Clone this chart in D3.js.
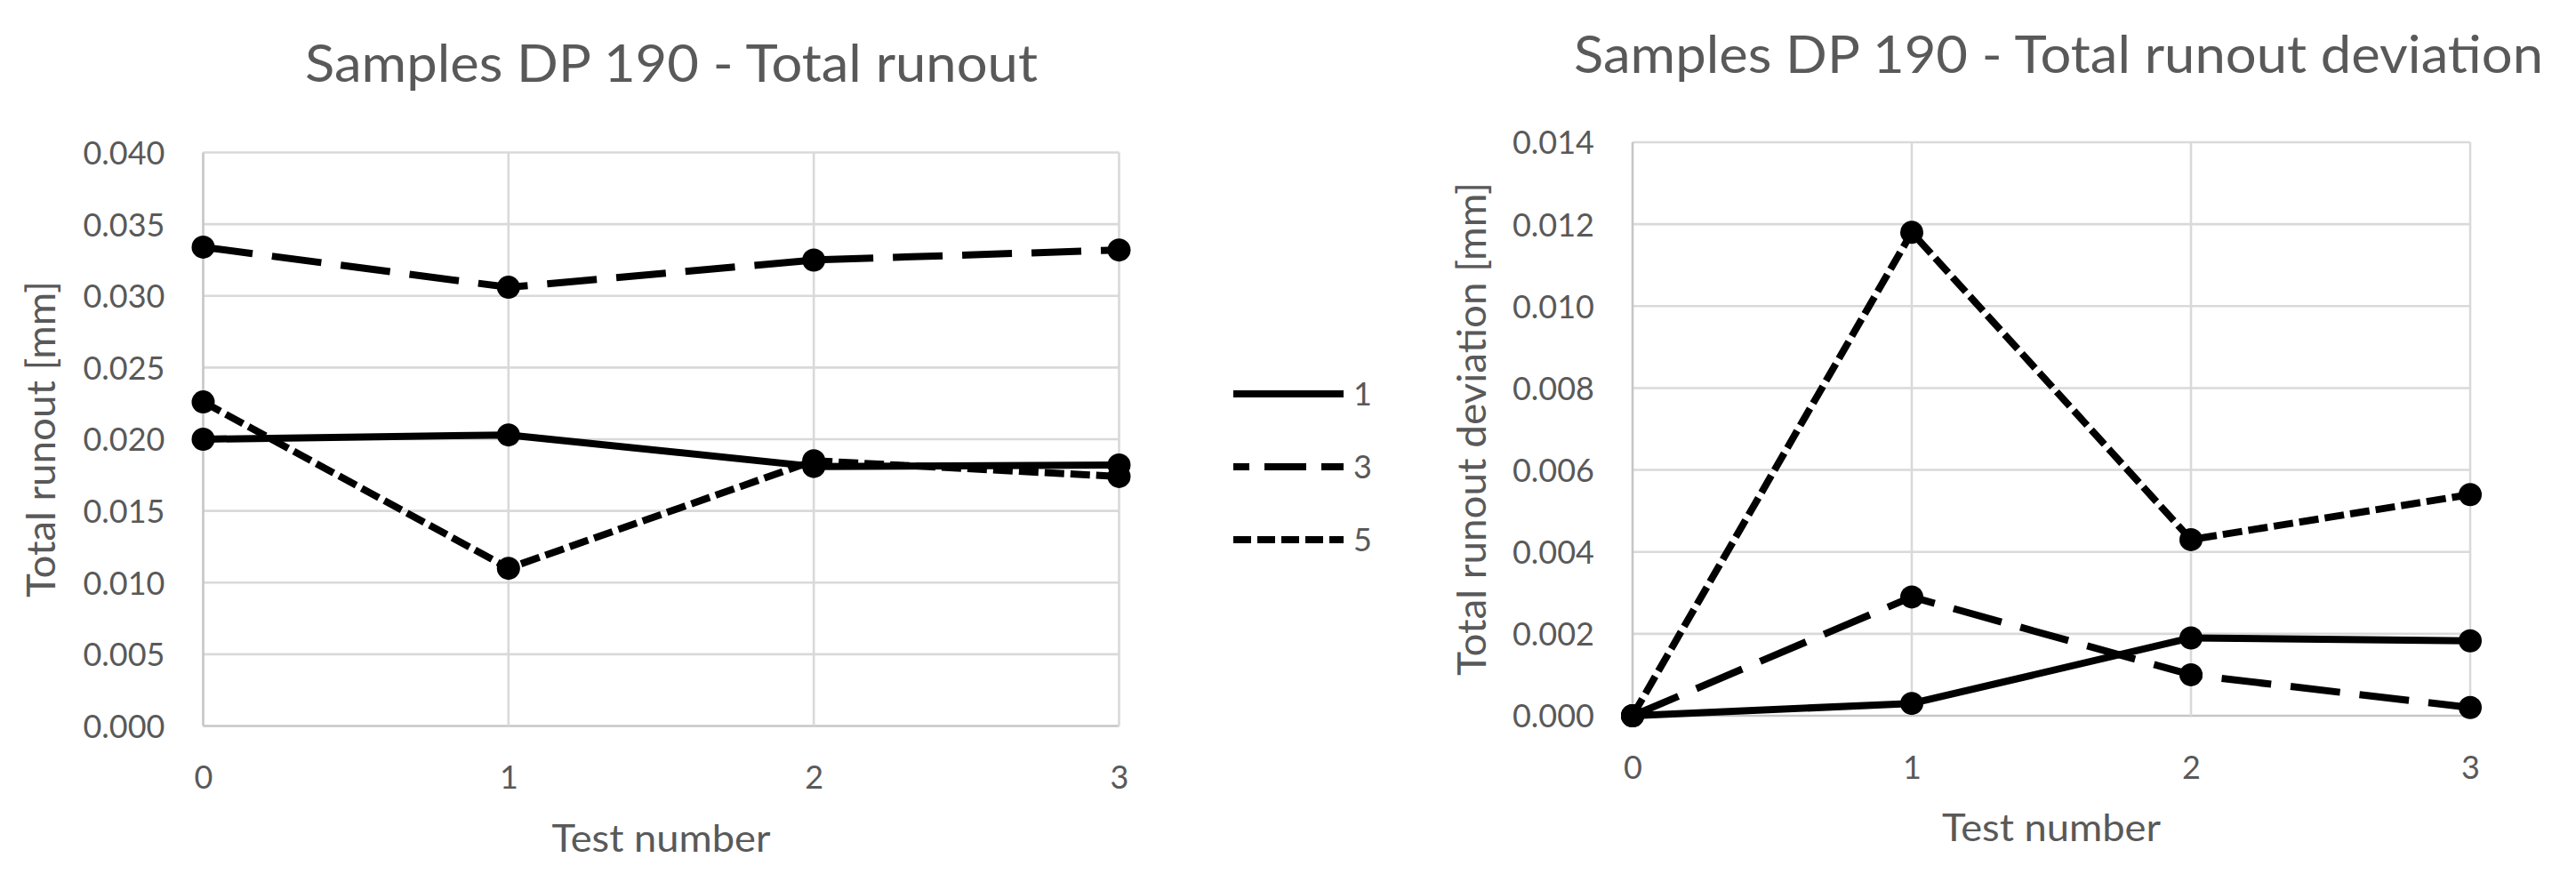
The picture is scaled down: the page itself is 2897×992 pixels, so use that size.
<!DOCTYPE html>
<html>
<head>
<meta charset="utf-8">
<script src="https://cdn.jsdelivr.net/npm/d3@7"></script>
<style>
  html, body { margin: 0; padding: 0; background: #ffffff; }
  svg { display: block; }
  text { font-family: Lato, "Open Sans", sans-serif; fill: #595959; }
</style>
</head>
<body>
<svg id="chart" width="2897" height="992"></svg>
<script>
// ---------------- data ----------------
const testNumbers = [0, 1, 2, 3];
const seriesNames = ["1", "3", "5"];

// Total runout [mm]
const runout1 = [0.0200, 0.0203, 0.0181, 0.0182];
const runout3 = [0.0334, 0.0306, 0.0325, 0.0332];
const runout5 = [0.0226, 0.0110, 0.0185, 0.0174];

// Total runout deviation [mm]
const deviation1 = [0.0000, 0.0003, 0.0019, 0.00183];
const deviation3 = [0.0000, 0.0029, 0.0010, 0.0002];
const deviation5 = [0.0000, 0.0118, 0.0043, 0.0054];

const runoutTicks = [0.000, 0.005, 0.010, 0.015, 0.020, 0.025, 0.030, 0.035, 0.040];
const deviationTicks = [0.000, 0.002, 0.004, 0.006, 0.008, 0.010, 0.012, 0.014];

const titleLeft = "Samples DP 190 - Total runout";
const titleRight = "Samples DP 190 - Total runout deviation";
const yTitleLeft = "Total runout [mm]";
const yTitleRight = "Total runout deviation [mm]";
const xTitle = "Test number";

// ---------------- styles ----------------
const dashes = { "1": null, "3": "56,22", "5": "22,7" };
const legendDashes = { "1": null, "3": "47,17", "5": "20,7" };
const legendOffsets = { "1": 0, "3": 29, "5": 0 };
const gridColor = "#d9d9d9";
const axisColor = "#c6c6c6";
const fmt = d3.format(".3f");

const svg = d3.select("#chart");
svg.append("rect").attr("width", 2897).attr("height", 992).attr("fill", "#fff");

function fit(sel, len) {
  sel.attr("textLength", len).attr("lengthAdjust", "spacingAndGlyphs");
  return sel;
}

function drawChart(cfg) {
  const x = d3.scaleLinear().domain([0, 3]).range([cfg.left, cfg.right]);
  const y = d3.scaleLinear().domain([0, cfg.ymax]).range([cfg.bottom, cfg.top]);
  const g = svg.append("g");

  // horizontal gridlines + y tick labels
  const yAxis = d3.axisLeft(y).tickValues(cfg.yticks).tickSize(0).tickPadding(0).tickFormat(fmt);
  const ya = g.append("g").attr("transform", `translate(${cfg.left - 43},0)`).call(yAxis);
  ya.select(".domain").remove();
  ya.selectAll("text").attr("font-size", 36).attr("fill", "#595959")
    .attr("font-family", "Lato, 'Open Sans', sans-serif").attr("dy", "0.36em").attr("x", 0);

  g.append("g").selectAll("line.h").data(cfg.yticks).join("line")
    .attr("x1", cfg.left).attr("x2", cfg.right)
    .attr("y1", d => y(d)).attr("y2", d => y(d))
    .attr("stroke", d => d === 0 ? axisColor : gridColor).attr("stroke-width", 2.6);

  // vertical gridlines
  g.append("g").selectAll("line.v").data(testNumbers).join("line")
    .attr("x1", d => x(d)).attr("x2", d => x(d))
    .attr("y1", cfg.top).attr("y2", cfg.bottom)
    .attr("stroke", d => d === 0 ? axisColor : gridColor).attr("stroke-width", 2.6);

  // x tick labels
  const xAxis = d3.axisBottom(x).tickValues(testNumbers).tickSize(0).tickPadding(0).tickFormat(d3.format("d"));
  const xa = g.append("g").attr("transform", `translate(0,${cfg.xLabelBase})`).call(xAxis);
  xa.select(".domain").remove();
  xa.selectAll("text").attr("font-size", 36).attr("fill", "#595959")
    .attr("font-family", "Lato, 'Open Sans', sans-serif").attr("dy", 0).attr("y", 0);

  // series
  const line = d3.line().x((d, i) => x(testNumbers[i])).y(d => y(d));
  cfg.series.forEach((vals, si) => {
    const name = seriesNames[si];
    g.append("path").datum(vals)
      .attr("d", line)
      .attr("fill", "none")
      .attr("stroke", "#000")
      .attr("stroke-width", 8)
      .attr("stroke-linejoin", "round")
      .attr("stroke-dasharray", dashes[name]);
    g.append("g").selectAll("circle").data(vals).join("circle")
      .attr("cx", (d, i) => x(testNumbers[i]))
      .attr("cy", d => y(d))
      .attr("r", 13)
      .attr("fill", "#000");
  });

  // titles
  fit(g.append("text").attr("x", cfg.titleX).attr("y", cfg.titleBase)
    .attr("text-anchor", "middle").attr("font-size", 59).text(cfg.title), cfg.titleLen);

  fit(g.append("text").attr("x", (cfg.left + cfg.right) / 2).attr("y", cfg.xTitleBase)
    .attr("text-anchor", "middle").attr("font-size", 43).text(xTitle), 246);

  const cy = (cfg.top + cfg.bottom) / 2;
  fit(g.append("text")
    .attr("transform", `translate(${cfg.yTitleBase},${cy}) rotate(-90)`)
    .attr("text-anchor", "middle").attr("font-size", 44).text(cfg.yTitle), cfg.yTitleLen);
}

drawChart({
  left: 228.5, right: 1258.5, top: 171.5, bottom: 816.5, ymax: 0.040,
  yticks: runoutTicks, series: [runout1, runout3, runout5],
  xLabelBase: 887, xTitleBase: 958,
  title: titleLeft, titleX: 755, titleBase: 92, titleLen: 824,
  yTitle: yTitleLeft, yTitleBase: 62, yTitleLen: 356
});

drawChart({
  left: 1836, right: 2778, top: 160, bottom: 805, ymax: 0.014,
  yticks: deviationTicks, series: [deviation1, deviation3, deviation5],
  xLabelBase: 876, xTitleBase: 946,
  title: titleRight, titleX: 2315, titleBase: 82, titleLen: 1090,
  yTitle: yTitleRight, yTitleBase: 1671, yTitleLen: 555
});

// legend
const legendY = d3.scalePoint().domain(seriesNames).range([443, 607]);
const lg = svg.append("g");
seriesNames.forEach(name => {
  lg.append("line")
    .attr("x1", 1387).attr("x2", 1511)
    .attr("y1", legendY(name)).attr("y2", legendY(name))
    .attr("stroke", "#000").attr("stroke-width", 8)
    .attr("stroke-dasharray", legendDashes[name])
    .attr("stroke-dashoffset", legendOffsets[name]);
  lg.append("text")
    .attr("x", 1522).attr("y", legendY(name)).attr("dy", "0.36em")
    .attr("font-size", 36).text(name);
});
</script>
</body>
</html>
